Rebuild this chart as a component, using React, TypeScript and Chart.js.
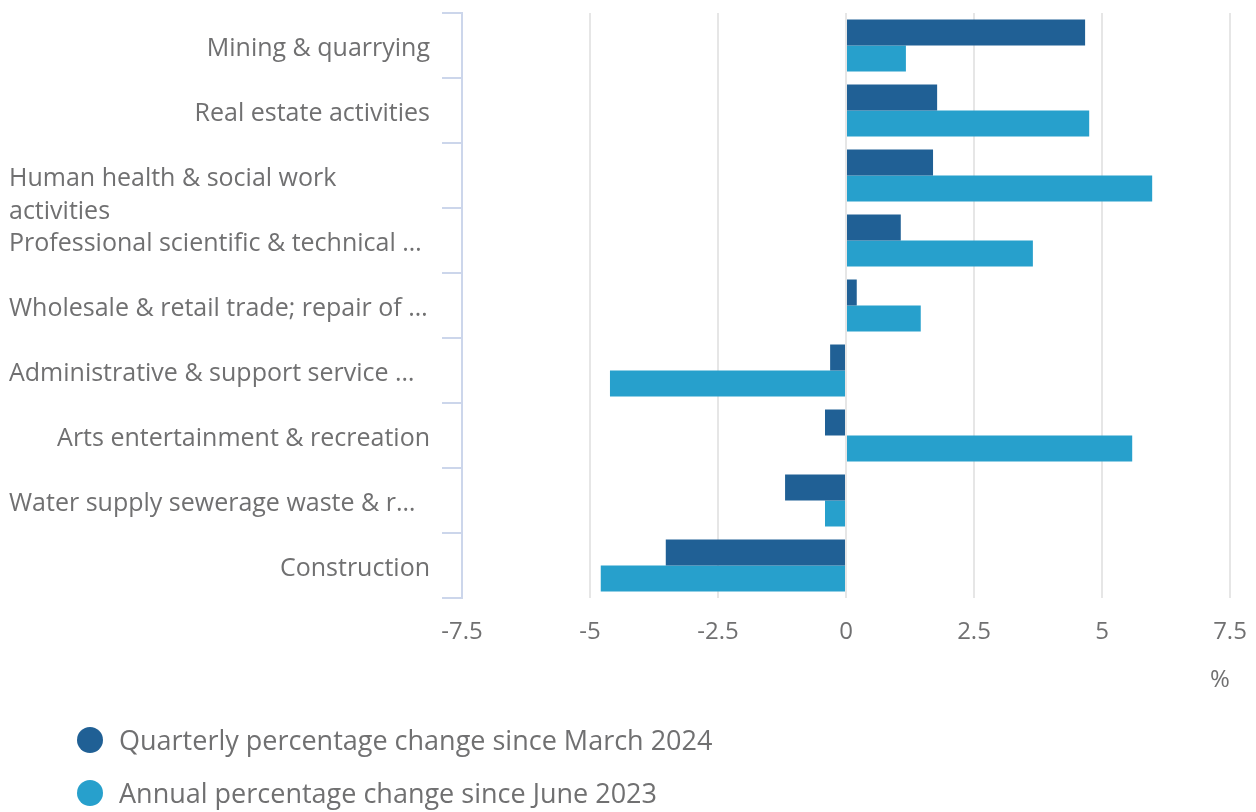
import React, { useEffect, useRef } from "react";
import { Chart, registerables } from "chart.js";

Chart.register(...registerables);

// ---- Data ----
const categories: (string | string[])[] = [
  "Mining & quarrying",
  "Real estate activities",
  ["Human health & social work", "activities"],
  "Professional scientific & technical …",
  "Wholesale & retail trade; repair of …",
  "Administrative & support service …",
  "Arts entertainment & recreation",
  "Water supply sewerage waste & r…",
  "Construction",
];
const quarterly = [4.67, 1.78, 1.7, 1.07, 0.21, -0.31, -0.41, -1.19, -3.52];
const annual = [1.17, 4.75, 5.98, 3.65, 1.46, -4.61, 5.59, -0.41, -4.79];
const xTickValues = [-7.5, -5, -2.5, 0, 2.5, 5, 7.5];
const xTickLabels = ["-7.5", "-5", "-2.5", "0", "2.5", "5", "7.5"];
const seriesNames = [
  "Quarterly percentage change since March 2024",
  "Annual percentage change since June 2023",
];
const seriesColors = ["#206095", "#27a0cc"];
const xAxisTitle = "%";

const TEXT = "#707071";
const FONT = '"Open Sans", "Noto Sans", sans-serif';

export default function App() {
  const ref = useRef<HTMLCanvasElement | null>(null);

  useEffect(() => {
    document.body.style.margin = "0";
    const canvas = ref.current;
    if (!canvas) return;

    const customText = {
      id: "customText",
      afterDraw(chart: any) {
        const ctx = chart.ctx as CanvasRenderingContext2D;
        const yScale = chart.scales.y;
        ctx.save();
        ctx.fillStyle = TEXT;
        ctx.textBaseline = "middle";
        ctx.font = `25px ${FONT}`;
        categories.forEach((lab, i) => {
          const y = yScale.getPixelForValue(i) + 3;
          const lines = Array.isArray(lab) ? lab : [lab];
          const leftAligned = Array.isArray(lab) || lab.indexOf("…") >= 0;
          lines.forEach((ln, k) => {
            if (leftAligned) {
              ctx.textAlign = "left";
              ctx.fillText(ln, 9, y + k * 33);
            } else {
              ctx.textAlign = "right";
              ctx.fillText(ln, 430, y + k * 33);
            }
          });
        });
        // x axis title
        ctx.font = `24px ${FONT}`;
        ctx.textAlign = "center";
        ctx.fillText(xAxisTitle, 1220, 680);
        // legend
        ctx.font = `27px ${FONT}`;
        ctx.textAlign = "left";
        seriesNames.forEach((name, i) => {
          const cy = 741 + i * 53;
          ctx.beginPath();
          ctx.fillStyle = seriesColors[i];
          ctx.arc(90, cy - 1, 13, 0, Math.PI * 2);
          ctx.fill();
          ctx.fillStyle = TEXT;
          ctx.fillText(name, 119, cy + 1);
        });
        ctx.restore();
      },
    };

    const chart = new Chart(canvas, {
      type: "bar",
      data: {
        labels: categories.map((c) => (Array.isArray(c) ? c.join(" ") : c)),
        datasets: [
          {
            label: seriesNames[0],
            data: quarterly,
            backgroundColor: seriesColors[0],
            borderWidth: 0,
            categoryPercentage: 0.8,
            barPercentage: 1.0,
          },
          {
            label: seriesNames[1],
            data: annual,
            backgroundColor: seriesColors[1],
            borderWidth: 0,
            categoryPercentage: 0.8,
            barPercentage: 1.0,
          },
        ],
      },
      options: {
        indexAxis: "y",
        responsive: false,
        animation: false,
        devicePixelRatio: 1,
        layout: { padding: { top: 13, right: 26, left: 0, bottom: 0 } },
        plugins: {
          legend: { display: false },
          tooltip: { enabled: false },
        },
        scales: {
          x: {
            type: "linear",
            min: -7.5,
            max: 7.5,
            afterBuildTicks: (scale: any) => {
              scale.ticks = xTickValues.map((v) => ({ value: v }));
            },
            afterFit: (scale: any) => {
              scale.height = 214;
              scale.paddingLeft = 0;
              scale.paddingRight = 0;
            },
            ticks: {
              color: TEXT,
              font: { size: 24, family: FONT },
              padding: 20,
              maxRotation: 0,
              callback: (v: any) => {
                const idx = xTickValues.indexOf(Number(v));
                return idx >= 0 ? xTickLabels[idx] : "";
              },
            },
            grid: {
              color: "#e6e6e6",
              lineWidth: 2,
              drawTicks: false,
            },
            border: { display: false },
          },
          y: {
            type: "category",
            offset: true,
            afterFit: (scale: any) => {
              scale.width = 462;
              scale.paddingTop = 0;
              scale.paddingBottom = 0;
            },
            ticks: { display: false },
            grid: {
              offset: true,
              drawOnChartArea: false,
              drawTicks: true,
              tickLength: 20,
              color: "#ccd6eb",
              tickColor: "#ccd6eb",
              lineWidth: 2,
            },
            border: { display: true, color: "#ccd6eb", width: 2 },
          },
        },
      },
      plugins: [customText],
    });

    return () => chart.destroy();
  }, []);

  return (
    <div style={{ position: "absolute", left: 0, top: 0, width: 1256, height: 812 }}>
      <canvas ref={ref} width={1256} height={812} style={{ width: 1256, height: 812 }} />
    </div>
  );
}
